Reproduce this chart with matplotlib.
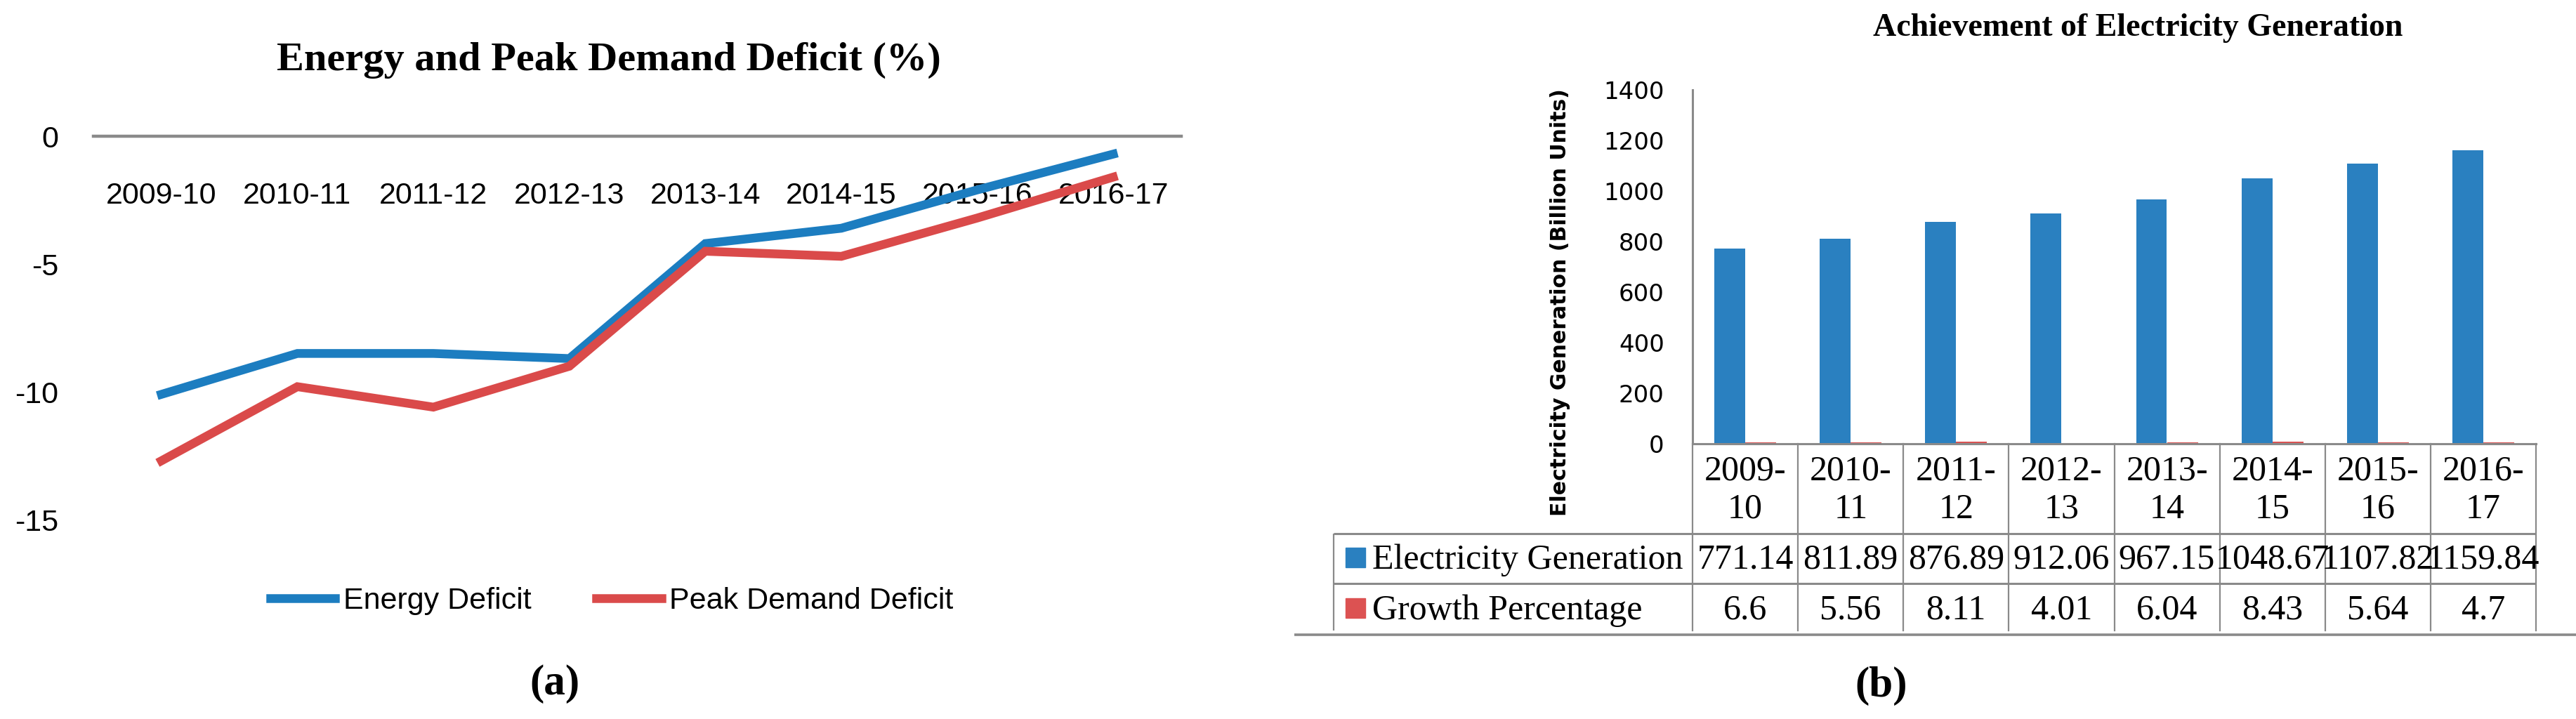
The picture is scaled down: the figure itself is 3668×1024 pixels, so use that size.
import matplotlib
matplotlib.use('Agg')
import matplotlib.pyplot as plt
from matplotlib.lines import Line2D
from matplotlib.patches import Rectangle
import numpy as np

# data
years = ['2009-10', '2010-11', '2011-12', '2012-13', '2013-14', '2014-15', '2015-16', '2016-17']
energy_deficit = [-10.1, -8.5, -8.5, -8.7, -4.2, -3.6, -2.1, -0.7]
peak_deficit = [-12.7, -9.8, -10.6, -9.0, -4.5, -4.7, -3.2, -1.6]
deficit_ticks = [0, -5, -10, -15]

generation = [771.14, 811.89, 876.89, 912.06, 967.15, 1048.67, 1107.82, 1159.84]
growth = [6.6, 5.56, 8.11, 4.01, 6.04, 8.43, 5.64, 4.7]
gen_ticks = [0, 200, 400, 600, 800, 1000, 1200, 1400]

BLUE_LINE = '#1c7dc0'
RED_LINE = '#da4a4a'
BLUE_BAR = '#2a80c0'
RED_BAR = '#dc5252'
GREY = '#8a8a8a'

NARROW = 'Liberation Sans'
SERIF = 'Liberation Serif'
SANS = 'DejaVu Sans'

plt.rcParams['axes.unicode_minus'] = False

W, H = 3668, 1024
fig = plt.figure(figsize=(W / 100, H / 100), dpi=100)


def fx(px):
    return px / W


def fy(py):
    return 1 - py / H


def box(l, t, r, b):
    return [fx(l), fy(b), (r - l) / W, (b - t) / H]


def hline(x0, x1, y, lw=2.2):
    fig.add_artist(Line2D([fx(x0), fx(x1)], [fy(y), fy(y)], transform=fig.transFigure,
                          color=GREY, lw=lw, solid_capstyle='butt'))


def vline(x, y0, y1, lw=1.6):
    fig.add_artist(Line2D([fx(x), fx(x)], [fy(y0), fy(y1)], transform=fig.transFigure,
                          color=GREY, lw=lw, solid_capstyle='butt'))


x = np.arange(len(years))

# ---- (a) deficit lines ----
ax1 = fig.add_axes(box(133, 194, 1682, 740))
ax1.plot(x, energy_deficit, color=BLUE_LINE, lw=9, label='Energy Deficit',
         solid_joinstyle='miter', zorder=3, clip_on=False)
ax1.plot(x, peak_deficit, color=RED_LINE, lw=9, label='Peak Demand Deficit',
         solid_joinstyle='miter', zorder=3, clip_on=False)
ax1.set_xlim(-0.5, 7.5)
ax1.set_ylim(-15, 0)
for s in ['top', 'right', 'left']:
    ax1.spines[s].set_visible(False)
ax1.spines['bottom'].set_position(('data', 0))
ax1.spines['bottom'].set_color(GREY)
ax1.spines['bottom'].set_linewidth(3.2)
ax1.set_xticks([])
for i, yr in enumerate(years):
    ax1.text(i, -2.64, yr, ha='center', va='baseline', fontsize=31,
             family=NARROW, zorder=1)
ax1.set_yticks(deficit_ticks)
ax1.set_yticklabels([str(t) for t in deficit_ticks])
ax1.tick_params(axis='y', length=0, pad=36, labelsize=31)
for lab in ax1.get_yticklabels():
    lab.set_family(NARROW)

h, l = ax1.get_legend_handles_labels()
fig.legend(h, l, loc='center', bbox_to_anchor=(fx(871), fy(856)), ncol=2, frameon=False,
           prop={'family': NARROW, 'size': 31}, handlelength=2.15, handletextpad=0.26,
           columnspacing=2.15)

fig.text(fx(867), fy(100), 'Energy and Peak Demand Deficit (%)', ha='center', va='baseline',
         family=SERIF, weight='bold', size=42)
fig.text(fx(790), fy(974), '(a)', ha='center', va='center', family=SERIF, weight='bold', size=44)

# ---- (b) generation bars with data table ----
AX_L, AX_T, AX_R, AX_B = 2410, 128, 3611, 632
ax2 = fig.add_axes(box(AX_L, AX_T, AX_R, AX_B))
ax2.bar(x - 0.147, generation, 0.293, color=BLUE_BAR, zorder=2)
ax2.bar(x + 0.147, growth, 0.293, color=RED_BAR, zorder=2)
ax2.set_xlim(-0.5, 7.5)
ax2.set_ylim(0, 1400)
for s in ['top', 'right']:
    ax2.spines[s].set_visible(False)
for s in ['left', 'bottom']:
    ax2.spines[s].set_color(GREY)
    ax2.spines[s].set_linewidth(2.2)
ax2.set_xticks([])
ax2.set_yticks(gen_ticks)
ax2.set_yticklabels([str(t) for t in gen_ticks])
ax2.tick_params(axis='y', length=0, pad=29, labelsize=24.5)
for lab in ax2.get_yticklabels():
    lab.set_family(SANS)

tr = ax2.get_xaxis_transform()


def ay(py):
    return (AX_B - py) / (AX_B - AX_T)


for i, yr in enumerate(years):
    top, bot = yr.split('-')
    ax2.text(i, ay(683), top + '-', ha='center', va='baseline', family=SERIF, size=36,
             transform=tr, clip_on=False)
    ax2.text(i, ay(738), bot, ha='center', va='baseline', family=SERIF, size=36,
             transform=tr, clip_on=False)
    ax2.text(i, ay(810), str(generation[i]), ha='center', va='baseline', family=SERIF,
             size=36, transform=tr, clip_on=False)
    ax2.text(i, ay(882), str(growth[i]), ha='center', va='baseline', family=SERIF,
             size=36, transform=tr, clip_on=False)

for xb in np.arange(-0.5, len(years)):
    ax2.plot([xb, xb], [0, ay(898)], transform=tr, color=GREY, lw=1.6, clip_on=False)

hline(1899, AX_R, 760)
hline(1899, AX_R, 831)
vline(1899, 760, 898)
hline(1843, W, 904, lw=2.6)

fig.add_artist(Rectangle((fx(1916), fy(808)), 28 / W, 28 / H, transform=fig.transFigure,
                         color=BLUE_BAR))
fig.add_artist(Rectangle((fx(1916), fy(880)), 28 / W, 28 / H, transform=fig.transFigure,
                         color=RED_BAR))
fig.text(fx(1954), fy(810), 'Electricity Generation', ha='left', va='baseline',
         family=SERIF, size=36)
fig.text(fx(1954), fy(882), 'Growth Percentage', ha='left', va='baseline',
         family=SERIF, size=36)

fig.text(fx(2222), fy(431), 'Electricity Generation (Billion Units)', rotation=90,
         ha='center', va='center', family=SANS, weight='bold', size=21.5)
fig.text(fx(3044), fy(51), 'Achievement of Electricity Generation', ha='center',
         va='baseline', family=SERIF, weight='bold', size=33)
fig.text(fx(2679), fy(977), '(b)', ha='center', va='center', family=SERIF,
         weight='bold', size=44)

fig.savefig('out.png', dpi=100)
